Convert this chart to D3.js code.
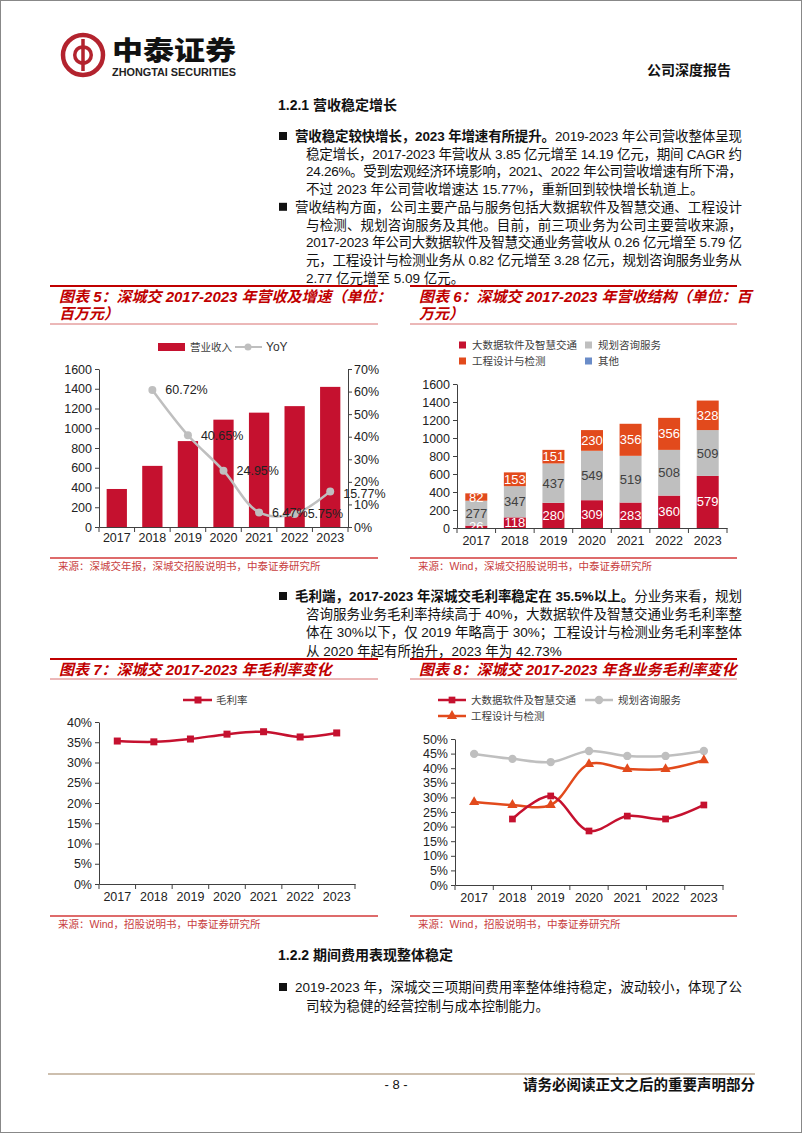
<!DOCTYPE html>
<html>
<head>
<meta charset="utf-8">
<script src="https://cdn.jsdelivr.net/npm/d3@7"></script>
<style>
  body { margin: 0; background: #fff; }
  svg text { font-family: "Liberation Sans", Arial, "Noto Sans CJK SC", sans-serif; }
</style>
</head>
<body>
<div id="page"></div>
<script>
// ---- data ----
const years = ['2017', '2018', '2019', '2020', '2021', '2022', '2023'];

// chart 5: revenue (million yuan) and YoY growth (%)
const revenue = [385, 619, 870, 1087, 1158, 1224, 1419];
const revenueYoY = [null, 60.72, 40.65, 24.95, 6.47, 5.75, 15.77];

// chart 6: revenue structure (million yuan)
const bigDataRev = [26, 118, 280, 309, 283, 360, 579];
const planningRev = [277, 347, 437, 549, 519, 508, 509];
const engineeringRev = [82, 153, 151, 230, 356, 356, 328];
const otherRev = [0, 0, 0, 0, 0, 0, 0];

// chart 7: gross margin (%)
const grossMargin = [35.3, 35.1, 35.8, 37.0, 37.6, 36.3, 37.3];

// chart 8: gross margin by business (%)
const gmBigData = [null, 22.6, 30.5, 18.5, 23.6, 22.6, 27.4];
const gmPlanning = [44.9, 43.2, 42.1, 45.9, 44.2, 44.2, 45.9];
const gmEngineering = [28.4, 27.4, 27.4, 41.4, 39.7, 39.7, 42.73];

// tick labels
const revTicks = [0, 200, 400, 600, 800, 1000, 1200, 1400, 1600];
const yoyTicks = [0, 10, 20, 30, 40, 50, 60, 70];
const gmTicks = [0, 5, 10, 15, 20, 25, 30, 35, 40];
const gmBizTicks = [0, 5, 10, 15, 20, 25, 30, 35, 40, 45, 50];

// colours
const crimson = '#C5112F';
const orange = '#E24A1C';
const gray = '#BFBFBF';
const blue = '#6A8CC8';
const titleRed = '#C00000';

const svg = d3.select('#page').append('svg')
  .attr('width', 802)
  .attr('height', 1133);

svg.append('rect').attr('x', 0.5).attr('y', 0.5).attr('width', 801).attr('height', 1132)
  .attr('fill', '#fff').attr('stroke', '#888');

// ---- header ----
let logo = svg.append('g');
logo.append('circle').attr('cx', 83).attr('cy', 55).attr('r', 20)
  .attr('fill', '#fff').attr('stroke', '#B3232E').attr('stroke-width', 4.5);
logo.append('path')
  .attr('d', 'M83,39 L83,71 M83,47 C72,47 72,63 83,63 M83,47 C94,47 94,63 83,63')
  .attr('fill', 'none').attr('stroke', '#B3232E').attr('stroke-width', 3.5);
logo.append('text').attr('x', 112).attr('y', 60)
  .attr('textLength', 124).attr('lengthAdjust', 'spacingAndGlyphs')
  .style('font-family', '"Noto Sans CJK SC"').style('font-weight', 900).style('font-size', '26px')
  .attr('fill', '#111').text('中泰证券');
logo.append('text').attr('x', 112).attr('y', 76)
  .attr('textLength', 124).attr('lengthAdjust', 'spacingAndGlyphs')
  .style('font-weight', 'bold').style('font-size', '10px').attr('fill', '#222')
  .text('ZHONGTAI SECURITIES');
svg.append('text').attr('x', 731).attr('y', 75).attr('text-anchor', 'end')
  .style('font-weight', 'bold').style('font-size', '14px').attr('fill', '#111')
  .text('公司深度报告');

// ---- body text helpers ----
function heading(y, num, words) {
  let t = svg.append('text').attr('x', 278).attr('y', y + 5)
    .style('font-weight', 'bold').style('font-size', '14px').attr('fill', '#111');
  t.append('tspan').text(num + ' ');
  t.append('tspan').text(words);
}

function textLine(x, y, parts, justify) {
  let t = svg.append('text').attr('x', x).attr('y', y + 5)
    .style('font-size', '13.5px').attr('fill', '#111');
  parts.forEach(p => {
    t.append('tspan').style('font-weight', p[1] ? 'bold' : 'normal').text(p[0]);
  });
  if (justify) t.attr('textLength', 742 - x).attr('lengthAdjust', 'spacing');
}

function bullet(y0, gap, lines) {
  svg.append('rect').attr('x', 279).attr('y', y0 - 4).attr('width', 8).attr('height', 8).attr('fill', '#111');
  lines.forEach((parts, i) => {
    textLine(i === 0 ? 295 : 306, y0 + i * gap, parts, i < lines.length - 1);
  });
}

heading(105, '1.2.1', '营收稳定增长');

bullet(136, 17.7, [
  [['营收稳定较快增长，2023 年增速有所提升。', true], ['2019-2023 年公司营收整体呈现', false]],
  [['稳定增长，2017-2023 年营收从 3.85 亿元增至 14.19 亿元，期间 CAGR 约', false]],
  [['24.26%。受到宏观经济环境影响，2021、2022 年公司营收增速有所下滑，', false]],
  [['不过 2023 年公司营收增速达 15.77%，重新回到较快增长轨道上。', false]]
]);
bullet(136 + 4 * 17.7, 17.7, [
  [['营收结构方面，公司主要产品与服务包括大数据软件及智慧交通、工程设计', false]],
  [['与检测、规划咨询服务及其他。目前，前三项业务为公司主要营收来源，', false]],
  [['2017-2023 年公司大数据软件及智慧交通业务营收从 0.26 亿元增至 5.79 亿', false]],
  [['元，工程设计与检测业务从 0.82 亿元增至 3.28 亿元，规划咨询服务业务从', false]],
  [['2.77 亿元增至 5.09 亿元。', false]]
]);
bullet(596, 18.2, [
  [['毛利端，2017-2023 年深城交毛利率稳定在 35.5%以上。', true], ['分业务来看，规划', false]],
  [['咨询服务业务毛利率持续高于 40%，大数据软件及智慧交通业务毛利率整', false]],
  [['体在 30%以下，仅 2019 年略高于 30%；工程设计与检测业务毛利率整体', false]],
  [['从 2020 年起有所抬升，2023 年为 42.73%', false]]
]);

heading(955, '1.2.2', '期间费用表现整体稳定');
bullet(987, 18.5, [
  [['2019-2023 年，深城交三项期间费用率整体维持稳定，波动较小，体现了公', false]],
  [['司较为稳健的经营控制与成本控制能力。', false]]
]);

// ---- footer ----
svg.append('line').attr('x1', 48).attr('x2', 755).attr('y1', 1074).attr('y2', 1074)
  .attr('stroke', '#CDBFAE').attr('stroke-width', 2);
svg.append('text').attr('x', 396).attr('y', 1089).attr('text-anchor', 'middle')
  .style('font-size', '13px').attr('fill', '#111').text('- 8 -');
svg.append('text').attr('x', 755).attr('y', 1090).attr('text-anchor', 'end')
  .style('font-weight', 'bold').style('font-size', '14.5px').attr('fill', '#111')
  .text('请务必阅读正文之后的重要声明部分');

// ---- chart frames ----
function chartFrame(x0, x1, yTop, yBottom, titleLines, ySrcLine, source) {
  svg.append('line').attr('x1', x0).attr('x2', x1).attr('y1', yTop).attr('y2', yTop)
    .attr('stroke', titleRed).attr('stroke-width', 2);
  svg.append('line').attr('x1', x0).attr('x2', x1).attr('y1', yBottom).attr('y2', yBottom)
    .attr('stroke', '#D87070').attr('stroke-width', 1);
  titleLines.forEach((s, i) => {
    svg.append('text').attr('x', x0 + 9).attr('y', yTop + 16 + i * 17)
      .style('font-weight', 'bold').style('font-style', 'italic').style('font-size', '15px')
      .attr('fill', titleRed).text(s);
  });
  svg.append('line').attr('x1', x0).attr('x2', x1).attr('y1', ySrcLine).attr('y2', ySrcLine)
    .attr('stroke', '#DE6B6B').attr('stroke-width', 2);
  svg.append('text').attr('x', x0 + 8).attr('y', ySrcLine + 12)
    .style('font-size', '10.5px').attr('fill', '#C84040').text(source);
}

chartFrame(50, 378, 286, 324, ['图表 5：深城交 2017-2023 年营收及增速（单位：', '百万元）'],
  558, '来源：深城交年报，深城交招股说明书，中泰证券研究所');
chartFrame(410, 737, 286, 324, ['图表 6：深城交 2017-2023 年营收结构（单位：百', '万元）'],
  558, '来源：Wind，深城交招股说明书，中泰证券研究所');
chartFrame(50, 378, 659, 679, ['图表 7：深城交 2017-2023 年毛利率变化'],
  916, '来源：Wind，招股说明书，中泰证券研究所');
chartFrame(410, 737, 659, 679, ['图表 8：深城交 2017-2023 年各业务毛利率变化'],
  916, '来源：Wind，招股说明书，中泰证券研究所');

// ---- axis helpers ----
function styleAxis(g) {
  g.select('.domain').attr('stroke', '#404040');
  g.selectAll('.tick line').attr('stroke', '#404040');
  g.selectAll('.tick text').attr('fill', '#222')
    .style('font-size', '12.5px').style('font-family', '"Liberation Sans", Arial');
}

function categoryAxis(x, yPos, pad) {
  let g = svg.append('g').attr('transform', `translate(0, ${yPos})`)
    .call(d3.axisBottom(x).tickSize(0).tickSizeOuter(0).tickPadding(pad));
  styleAxis(g);
  let step = x.step();
  let edges = x.domain().map(d => x(d) + x.bandwidth() / 2 - step / 2);
  edges.push(edges[edges.length - 1] + step);
  g.selectAll('.edge').data(edges).enter().append('line')
    .attr('x1', d => d).attr('x2', d => d).attr('y1', 0).attr('y2', 5)
    .attr('stroke', '#404040');
  return g;
}

function legendText(x, y, s) {
  svg.append('text').attr('x', x).attr('y', y + 4)
    .style('font-size', '10.5px').attr('fill', '#404040').text(s);
}

// ---- chart 5: revenue bars + YoY line ----
let x5 = d3.scaleBand().domain(years).range([99, 348]).paddingInner(0.43).paddingOuter(0.215);
let y5 = d3.scaleLinear().domain([0, 1600]).range([527, 369]);
let y5r = d3.scaleLinear().domain([0, 70]).range([527, 369]);

svg.append('g').selectAll('rect').data(revenue).enter().append('rect')
  .attr('x', (d, i) => x5(years[i]))
  .attr('y', d => y5(d))
  .attr('width', x5.bandwidth())
  .attr('height', d => y5(0) - y5(d))
  .attr('fill', crimson);

styleAxis(svg.append('g').attr('transform', 'translate(99, 0)')
  .call(d3.axisLeft(y5).tickValues(revTicks).tickFormat(d => String(d)).tickSize(4).tickSizeOuter(0).tickPadding(3)));
styleAxis(svg.append('g').attr('transform', 'translate(348, 0)')
  .call(d3.axisRight(y5r).tickValues(yoyTicks).tickFormat(d => d + '%').tickSize(4).tickSizeOuter(0).tickPadding(2)));
categoryAxis(x5, 527, 6.5);

let yoyPts = years.map((yr, i) => ({ yr: yr, v: revenueYoY[i] })).filter(d => d.v !== null);
let yoyLine = d3.line()
  .x(d => x5(d.yr) + x5.bandwidth() / 2)
  .y(d => y5r(d.v))
  .curve(d3.curveCatmullRom.alpha(0.5));
svg.append('path').datum(yoyPts).attr('d', yoyLine)
  .attr('fill', 'none').attr('stroke', gray).attr('stroke-width', 2.5);
svg.append('g').selectAll('circle').data(yoyPts).enter().append('circle')
  .attr('cx', d => x5(d.yr) + x5.bandwidth() / 2)
  .attr('cy', d => y5r(d.v))
  .attr('r', 4).attr('fill', gray);
svg.append('g').selectAll('text').data(yoyPts).enter().append('text')
  .attr('x', d => x5(d.yr) + x5.bandwidth() / 2 + 13)
  .attr('y', d => y5r(d.v) + (d.yr === '2023' ? 2 : 0)).attr('dy', '0.35em')
  .style('font-size', '12.5px').attr('fill', '#222')
  .text(d => d.v.toFixed(2) + '%');

// legend 5
svg.append('rect').attr('x', 158).attr('y', 343).attr('width', 27).attr('height', 8).attr('fill', crimson);
legendText(190, 347, '营业收入');
svg.append('line').attr('x1', 235).attr('x2', 262).attr('y1', 347).attr('y2', 347)
  .attr('stroke', gray).attr('stroke-width', 2);
svg.append('circle').attr('cx', 248).attr('cy', 347).attr('r', 3.5).attr('fill', gray);
svg.append('text').attr('x', 266).attr('y', 351)
  .style('font-size', '12px').attr('fill', '#333').text('YoY');

// ---- chart 6: stacked revenue structure ----
let structTable = years.map((yr, i) => ({
  year: yr,
  bigData: bigDataRev[i],
  planning: planningRev[i],
  engineering: engineeringRev[i],
  other: otherRev[i]
}));
let keys6 = ['bigData', 'planning', 'engineering', 'other'];
let colors6 = { bigData: crimson, planning: gray, engineering: orange, other: blue };
let labelColors6 = { bigData: '#fff', planning: '#404040', engineering: '#fff', other: '#fff' };
let stacked = d3.stack().keys(keys6)(structTable);

let x6 = d3.scaleBand().domain(years).range([457, 727]).paddingInner(0.43).paddingOuter(0.215);
let y6 = d3.scaleLinear().domain([0, 1600]).range([528, 384]);

let layers = svg.append('g').selectAll('g').data(stacked).enter().append('g')
  .attr('fill', d => colors6[d.key]);
layers.selectAll('rect').data(d => d).enter().append('rect')
  .attr('x', d => x6(d.data.year))
  .attr('y', d => y6(d[1]))
  .attr('width', x6.bandwidth())
  .attr('height', d => y6(d[0]) - y6(d[1]));

stacked.filter(s => s.key !== 'other').forEach(s => {
  svg.append('g').selectAll('text').data(s).enter().append('text')
    .attr('x', d => x6(d.data.year) + x6.bandwidth() / 2)
    .attr('y', d => (y6(d[0]) + y6(d[1])) / 2).attr('dy', '0.35em')
    .attr('text-anchor', 'middle')
    .style('font-size', '13px').attr('fill', labelColors6[s.key])
    .text(d => d.data[s.key]);
});

styleAxis(svg.append('g').attr('transform', 'translate(457, 0)')
  .call(d3.axisLeft(y6).tickValues(revTicks).tickFormat(d => String(d)).tickSize(4).tickSizeOuter(0).tickPadding(3)));
categoryAxis(x6, 528, 8.5);

// legend 6
let legend6 = [
  { key: 'bigData', label: '大数据软件及智慧交通', x: 459, y: 345 },
  { key: 'planning', label: '规划咨询服务', x: 585, y: 345 },
  { key: 'engineering', label: '工程设计与检测', x: 459, y: 361 },
  { key: 'other', label: '其他', x: 585, y: 361 }
];
legend6.forEach(l => {
  svg.append('rect').attr('x', l.x).attr('y', l.y - 3.5).attr('width', 7).attr('height', 7)
    .attr('fill', colors6[l.key]);
  legendText(l.x + 13, l.y, l.label);
});

// ---- chart 7: gross margin ----
let x7 = d3.scaleBand().domain(years).range([99, 355]);
let y7 = d3.scaleLinear().domain([0, 40]).range([884, 722]);
styleAxis(svg.append('g').attr('transform', 'translate(99, 0)')
  .call(d3.axisLeft(y7).tickValues(gmTicks).tickFormat(d => d + '%').tickSize(4).tickSizeOuter(0).tickPadding(3)));
categoryAxis(x7, 884, 8.5);

let gmPts = years.map((yr, i) => ({ yr: yr, v: grossMargin[i] }));
let gmLine = d3.line()
  .x(d => x7(d.yr) + x7.bandwidth() / 2)
  .y(d => y7(d.v))
  .curve(d3.curveCatmullRom.alpha(0.5));
svg.append('path').datum(gmPts).attr('d', gmLine)
  .attr('fill', 'none').attr('stroke', crimson).attr('stroke-width', 2.5);
svg.append('g').selectAll('rect').data(gmPts).enter().append('rect')
  .attr('x', d => x7(d.yr) + x7.bandwidth() / 2 - 3.5)
  .attr('y', d => y7(d.v) - 3.5)
  .attr('width', 7).attr('height', 7).attr('fill', crimson);

svg.append('line').attr('x1', 183).attr('x2', 212).attr('y1', 700).attr('y2', 700)
  .attr('stroke', crimson).attr('stroke-width', 2.5);
svg.append('rect').attr('x', 194.5).attr('y', 696.5).attr('width', 7).attr('height', 7).attr('fill', crimson);
legendText(216, 700, '毛利率');

// ---- chart 8: gross margin by business ----
let x8 = d3.scaleBand().domain(years).range([455, 723]);
let y8 = d3.scaleLinear().domain([0, 50]).range([885, 739]);
styleAxis(svg.append('g').attr('transform', 'translate(455, 0)')
  .call(d3.axisLeft(y8).tickValues(gmBizTicks).tickFormat(d => d + '%').tickSize(4).tickSizeOuter(0).tickPadding(3)));
categoryAxis(x8, 885, 8.5);

let bizSeries = [
  { name: '规划咨询服务', values: gmPlanning, color: gray, marker: 'circle' },
  { name: '工程设计与检测', values: gmEngineering, color: orange, marker: 'triangle' },
  { name: '大数据软件及智慧交通', values: gmBigData, color: crimson, marker: 'square' }
];
let symbolTypes = { circle: d3.symbolCircle, triangle: d3.symbolTriangle, square: d3.symbolSquare };
let symbolSizes = { circle: 55, triangle: 45, square: 45 };
let bizLine = d3.line()
  .x(d => x8(d.yr) + x8.bandwidth() / 2)
  .y(d => y8(d.v))
  .curve(d3.curveCatmullRom.alpha(0.5));

bizSeries.forEach(s => {
  let pts = years.map((yr, i) => ({ yr: yr, v: s.values[i] })).filter(d => d.v !== null);
  svg.append('path').datum(pts).attr('d', bizLine)
    .attr('fill', 'none').attr('stroke', s.color).attr('stroke-width', 2.5);
  svg.append('g').selectAll('path').data(pts).enter().append('path')
    .attr('transform', d => `translate(${x8(d.yr) + x8.bandwidth() / 2}, ${y8(d.v)})`)
    .attr('d', d3.symbol().type(symbolTypes[s.marker]).size(symbolSizes[s.marker]))
    .attr('fill', s.color);
});

let legend8 = [
  { s: bizSeries[2], x: 438, y: 700 },
  { s: bizSeries[0], x: 585, y: 700 },
  { s: bizSeries[1], x: 438, y: 716 }
];
legend8.forEach(l => {
  svg.append('line').attr('x1', l.x).attr('x2', l.x + 28).attr('y1', l.y).attr('y2', l.y)
    .attr('stroke', l.s.color).attr('stroke-width', 2.5);
  svg.append('path').attr('transform', `translate(${l.x + 14}, ${l.y})`)
    .attr('d', d3.symbol().type(symbolTypes[l.s.marker]).size(symbolSizes[l.s.marker]))
    .attr('fill', l.s.color);
  legendText(l.x + 33, l.y, l.s.name);
});
</script>
</body>
</html>
